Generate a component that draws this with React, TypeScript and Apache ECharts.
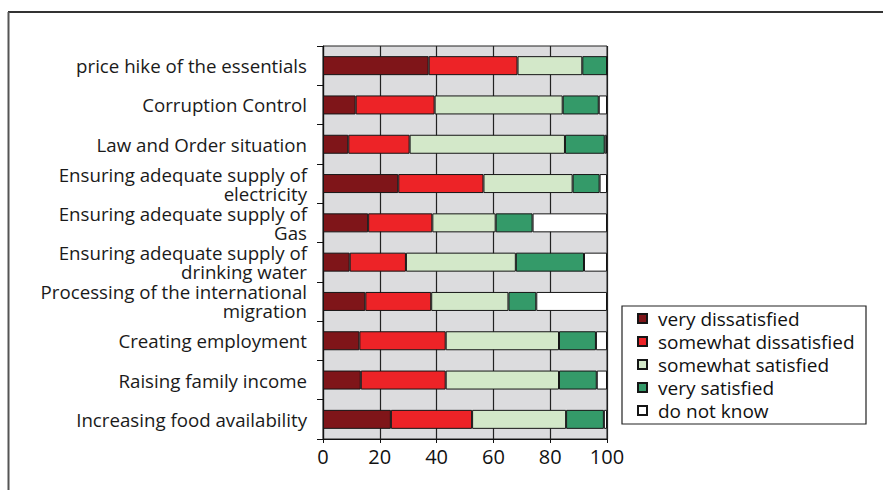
import React, { useEffect, useRef } from "react";
import * as echarts from "echarts";

const categories = [
  "price hike of the essentials",
  "Corruption Control",
  "Law and Order situation",
  "Ensuring adequate supply of\nelectricity",
  "Ensuring adequate supply of\nGas",
  "Ensuring adequate supply of\ndrinking water",
  "Processing of the international\nmigration",
  "Creating employment",
  "Raising family income",
  "Increasing food availability",
];

const seriesNames = [
  "very dissatisfied",
  "somewhat dissatisfied",
  "somewhat satisfied",
  "very satisfied",
  "do not know",
];

const veryDissatisfied = [37.2, 11.5, 8.9, 26.5, 15.9, 9.4, 14.9, 12.8, 13.3, 23.9];
const somewhatDissatisfied = [31.3, 27.8, 21.6, 30.0, 22.6, 19.8, 23.2, 30.4, 29.9, 28.6];
const somewhatSatisfied = [22.8, 45.1, 54.7, 31.4, 22.3, 38.7, 27.2, 39.9, 39.9, 33.1];
const verySatisfied = [8.7, 12.7, 14.0, 9.5, 13.0, 24.0, 9.8, 13.0, 13.3, 13.3];
const doNotKnow = [0, 2.9, 0.8, 2.6, 26.2, 8.1, 24.9, 3.9, 3.6, 1.1];

const xTicks = [0, 20, 40, 60, 80, 100];

const colors = ["#7f1519", "#ed2327", "#d3e8c9", "#349a69", "#ffffff"];

const FONT = "'Open Sans', 'Noto Sans', sans-serif";

export default function App() {
  const ref = useRef<HTMLDivElement>(null);
  useEffect(() => {
    if (!ref.current) return;
    const chart = echarts.init(ref.current, undefined, { renderer: "svg" });
    const values = [veryDissatisfied, somewhatDissatisfied, somewhatSatisfied, verySatisfied, doNotKnow];
    chart.setOption({
      animation: false,
      textStyle: { fontFamily: FONT },
      grid: {
        left: 323,
        right: 276,
        top: 46,
        bottom: 51,
        show: true,
        backgroundColor: "#dcdcde",
        borderColor: "#222",
        borderWidth: 1,
        containLabel: false,
      },
      xAxis: {
        type: "value",
        min: xTicks[0],
        max: xTicks[xTicks.length - 1],
        interval: 20,
        axisLine: { show: true, lineStyle: { color: "#111", width: 1.2 } },
        axisTick: { show: true, length: 4, lineStyle: { color: "#111" } },
        splitLine: { show: true, lineStyle: { color: "#222", width: 1.2 } },
        axisLabel: { fontSize: 20, color: "#111", margin: 7, fontFamily: FONT },
      },
      yAxis: {
        type: "category",
        data: categories,
        inverse: true,
        axisLine: { show: true, lineStyle: { color: "#111", width: 1.2 } },
        axisTick: { show: true, length: 6, lineStyle: { color: "#111" } },
        splitLine: { show: false },
        axisLabel: {
          fontSize: 18.7,
          lineHeight: 19,
          color: "#1a1a1a",
          margin: 16,
          fontFamily: FONT,
          align: "right",
        },
      },
      legend: {
        orient: "vertical",
        left: 637,
        top: 307,
        padding: 0,
        itemGap: 0,
        itemWidth: 9,
        itemHeight: 9,
        icon: "rect",
        textStyle: {
          fontSize: 19,
          lineHeight: 23,
          color: "#111",
          fontFamily: FONT,
          padding: [0, 0, 0, 6],
        },
        data: seriesNames,
      },
      graphic: [
        {
          type: "rect",
          shape: { x: 622, y: 306, width: 244, height: 118 },
          style: { fill: "none", stroke: "#222", lineWidth: 1.2 },
          silent: true,
        },
        {
          type: "line",
          shape: { x1: 8, y1: 12, x2: 883, y2: 12 },
          style: { stroke: "#333", lineWidth: 2 },
          silent: true,
        },
        {
          type: "line",
          shape: { x1: 8.5, y1: 12, x2: 8.5, y2: 490 },
          style: { stroke: "#555", lineWidth: 2 },
          silent: true,
        },
      ],
      series: seriesNames.map((name, i) => ({
        name,
        type: "bar",
        stack: "total",
        barWidth: 19,
        data: values[i],
        itemStyle: { color: colors[i], borderColor: "#151515", borderWidth: 1 },
      })),
    });
    return () => chart.dispose();
  }, []);
  return (
    <div
      ref={ref}
      style={{ position: "fixed", left: 0, top: 0, width: 883, height: 490, background: "#fff" }}
    />
  );
}
